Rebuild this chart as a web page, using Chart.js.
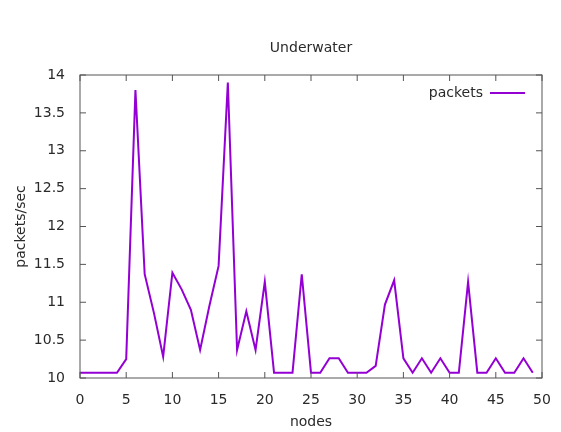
<!DOCTYPE html>
<html>
<head>
<meta charset="utf-8">
<script src="https://cdn.jsdelivr.net/npm/chart.js@4/dist/chart.umd.min.js"></script>
<style>
  html, body { margin: 0; padding: 0; background: #fff; }
  #wrap { width: 561px; height: 432px; position: relative; }
</style>
</head>
<body>
<div id="wrap"><canvas id="chart"></canvas></div>
<script>
// node index 0..49 and measured rate
const nodes = [];
for (let i = 0; i < 50; i++) nodes.push(i);
const packets = [
  10.07, 10.07, 10.07, 10.07, 10.07, 10.25, 13.8, 11.37, 10.86, 10.28,
  11.39, 11.17, 10.9, 10.37, 10.95, 11.48, 13.9, 10.37, 10.88, 10.37,
  11.27, 10.07, 10.07, 10.07, 11.37, 10.07, 10.07, 10.26, 10.26, 10.07,
  10.07, 10.07, 10.16, 10.97, 11.29, 10.26, 10.07, 10.26, 10.07, 10.26,
  10.07, 10.07, 11.27, 10.07, 10.07, 10.26, 10.07, 10.07, 10.26, 10.07
];
const xTicks = [0, 5, 10, 15, 20, 25, 30, 35, 40, 45, 50];
const yTicks = [10, 10.5, 11, 11.5, 12, 12.5, 13, 13.5, 14];

const fontFam = '"DejaVu Sans", sans-serif';
const textColor = '#2a2a2a';
const lineColor = 'rgb(148,0,211)';

// gnuplot-style frame, inward ticks, title and legend
const frame = {
  id: 'frame',
  afterDraw(chart) {
    const { ctx, chartArea: a, scales } = chart;
    ctx.save();
    ctx.strokeStyle = '#555';
    ctx.lineWidth = 1;
    ctx.strokeRect(a.left, a.top, a.right - a.left, a.bottom - a.top);
    ctx.beginPath();
    xTicks.forEach(v => {
      const px = scales.x.getPixelForValue(v);
      ctx.moveTo(px, a.bottom); ctx.lineTo(px, a.bottom - 6);
      ctx.moveTo(px, a.top); ctx.lineTo(px, a.top + 6);
    });
    yTicks.forEach(v => {
      const py = scales.y.getPixelForValue(v);
      ctx.moveTo(a.left, py); ctx.lineTo(a.left + 6, py);
      ctx.moveTo(a.right, py); ctx.lineTo(a.right - 6, py);
    });
    ctx.stroke();

    ctx.fillStyle = textColor;
    ctx.font = '14px ' + fontFam;
    ctx.textAlign = 'center';
    ctx.textBaseline = 'middle';
    ctx.fillText('Underwater', (a.left + a.right) / 2, 48);

    // legend: text then line sample
    const ds = chart.data.datasets[0];
    ctx.textAlign = 'right';
    ctx.fillText(ds.label, a.right - 59, a.top + 18);
    ctx.strokeStyle = ds.borderColor;
    ctx.lineWidth = 2;
    ctx.beginPath();
    ctx.moveTo(a.right - 52, a.top + 18);
    ctx.lineTo(a.right - 17, a.top + 18);
    ctx.stroke();
    ctx.restore();
  }
};

new Chart(document.getElementById('chart'), {
  type: 'line',
  data: {
    datasets: [{
      label: 'packets',
      data: nodes.map((n, i) => ({ x: n, y: packets[i] })),
      borderColor: lineColor,
      borderWidth: 2,
      pointRadius: 0,
      tension: 0,
      fill: false
    }]
  },
  options: {
    responsive: true,
    maintainAspectRatio: false,
    animation: false,
    layout: { padding: { top: 75, right: 19, left: 0, bottom: 0 } },
    plugins: {
      legend: { display: false },
      title: { display: false },
      tooltip: { enabled: false }
    },
    scales: {
      x: {
        type: 'linear',
        min: 0,
        max: 50,
        afterFit(s) { s.height = 54; },
        afterBuildTicks(s) { s.ticks = xTicks.map(v => ({ value: v })); },
        grid: { display: false },
        border: { display: false },
        ticks: { color: textColor, font: { family: fontFam, size: 14 }, padding: 6, maxRotation: 0,
                 callback: v => String(v) },
        title: { display: true, text: 'nodes', color: textColor, font: { family: fontFam, size: 14 }, padding: { top: 0, bottom: 1 } }
      },
      y: {
        min: 10,
        max: 14,
        afterFit(s) { s.width = 80; },
        afterBuildTicks(s) { s.ticks = yTicks.map(v => ({ value: v })); },
        grid: { display: false },
        border: { display: false },
        ticks: { color: textColor, font: { family: fontFam, size: 14 }, padding: 7,
                 callback: v => String(v) },
        title: { display: true, text: 'packets/sec', color: textColor, font: { family: fontFam, size: 14 }, padding: { top: 13, bottom: 0 } }
      }
    }
  },
  plugins: [frame]
});
</script>
</body>
</html>
